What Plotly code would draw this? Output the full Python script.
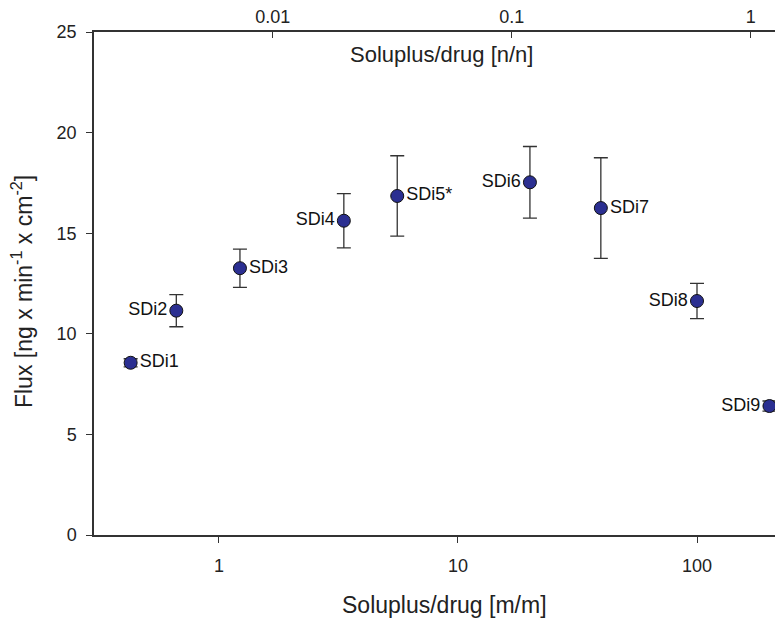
import math
import plotly.graph_objects as go

# Data
labels = ["SDi1", "SDi2", "SDi3", "SDi4", "SDi5*", "SDi6", "SDi7", "SDi8", "SDi9"]
ratio_mm = [0.427, 0.663, 1.224, 3.33, 5.57, 20.0, 39.6, 100.0, 201.0]
flux = [8.56, 11.15, 13.26, 15.62, 16.85, 17.53, 16.25, 11.63, 6.41]
flux_err = [0.2, 0.8, 0.95, 1.35, 2.0, 1.78, 2.5, 0.88, 0.25]
label_pos = ["middle right", "middle left", "middle right", "middle left", "middle right",
             "middle left", "middle right", "middle left", "middle left"]

# mass ratio -> molar ratio conversion factor
mm_per_nn = 167.8
ratio_nn = [v / mm_per_nn for v in ratio_mm]

x_range = [0.300, 229.0]
top_ticks = [0.01, 0.1, 1]
top_ticktext = ["0.01", "0.1", "1"]
bottom_ticks = [1, 10, 100]
y_ticks = [0, 5, 10, 15, 20, 25]

FONT = "Liberation Sans, Arial, sans-serif"
INK = "#222222"
LINE = "#333333"

fig = go.Figure()
fig.add_trace(go.Scatter(
    x=ratio_mm, y=flux,
    mode="markers+text",
    text=labels,
    textposition=label_pos,
    textfont=dict(family=FONT, size=18, color="#111111"),
    marker=dict(size=13, color="#2b2f91", line=dict(color="#111111", width=1)),
    error_y=dict(type="data", array=flux_err, visible=True, color=LINE, thickness=1.3, width=7),
    showlegend=False,
    cliponaxis=False,
    hoverinfo="x+y",
))
# same points on the molar-ratio (top) axis, invisible, so that axis is drawn
fig.add_trace(go.Scatter(
    x=ratio_nn, y=flux, xaxis="x2", yaxis="y",
    mode="markers", marker=dict(size=1, opacity=0),
    showlegend=False, hoverinfo="skip",
))

tick_font = dict(family=FONT, size=18, color=INK)

fig.update_layout(
    width=775, height=611,
    margin=dict(l=86, r=0, t=24, b=84),
    paper_bgcolor="white", plot_bgcolor="white",
    font=dict(family=FONT, color=INK),
    xaxis=dict(
        type="log",
        range=[math.log10(x_range[0]), math.log10(x_range[1])],
        tickvals=bottom_ticks, ticktext=[str(t) for t in bottom_ticks],
        ticks="outside", ticklen=6, tickwidth=1.3, tickcolor=LINE,
        showline=True, linecolor=LINE, linewidth=1.5,
        showgrid=False, zeroline=False,
        tickfont=tick_font, ticklabelstandoff=8,
    ),
    xaxis2=dict(
        type="log", overlaying="x", side="top", anchor="y",
        range=[math.log10(x_range[0] / mm_per_nn), math.log10(x_range[1] / mm_per_nn)],
        tickvals=top_ticks, ticktext=top_ticktext,
        ticks="inside", ticklen=6, tickwidth=1.3, tickcolor=LINE,
        showline=True, linecolor=LINE, linewidth=1.5,
        showgrid=False, zeroline=False,
        tickfont=tick_font,
    ),
    yaxis=dict(
        range=[0, 25],
        tickvals=y_ticks,
        ticks="outside", ticklen=6, tickwidth=1.3, tickcolor=LINE,
        showline=True, linecolor=LINE, linewidth=1.5,
        showgrid=False, zeroline=False,
        tickfont=tick_font, ticklabelstandoff=6,
    ),
    annotations=[
        dict(text="Soluplus/drug [n/n]", xref="paper", yref="paper",
             x=0.504, y=0.956, xanchor="center", yanchor="middle", showarrow=False,
             font=dict(family=FONT, size=22, color=INK)),
        dict(text="Soluplus/drug [m/m]", xref="paper", yref="paper",
             x=0.508, y=-0.139, xanchor="center", yanchor="middle", showarrow=False,
             font=dict(family=FONT, size=23, color=INK)),
        dict(text="Flux [ng x min<sup>-1</sup> x cm<sup>-2</sup>]", xref="paper", yref="paper",
             x=-0.1045, y=0.485, xanchor="center", yanchor="middle", showarrow=False,
             textangle=-90, font=dict(family=FONT, size=23, color=INK)),
    ],
)

fig.write_html("out.html")
